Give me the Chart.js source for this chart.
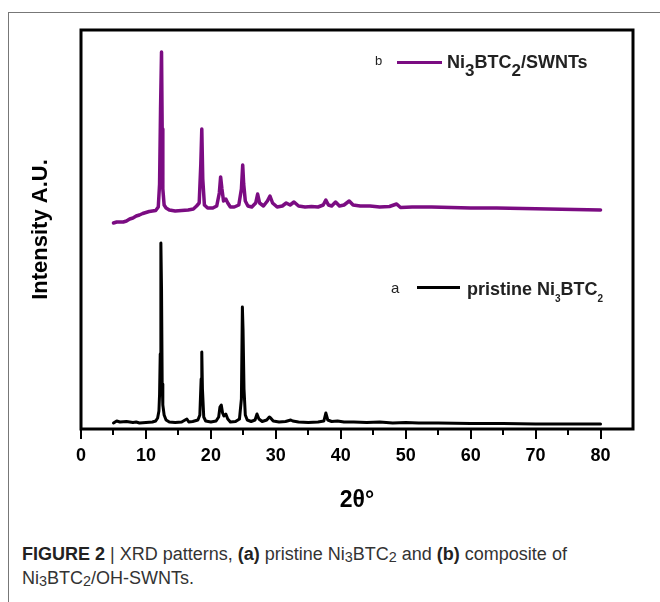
<!DOCTYPE html>
<html>
<head>
<meta charset="utf-8">
<script src="https://cdn.jsdelivr.net/npm/chart.js@4.4.1/dist/chart.umd.min.js"></script>
<style>
  html, body { margin: 0; padding: 0; background: #fff; }
  #wrap { position: relative; width: 660px; height: 602px; overflow: hidden; }
  #frame { position: absolute; left: 8px; top: 12px; width: 700px; height: 700px; border: 1px solid #777; }
  #xrd { position: absolute; left: 0; top: 0; }
  #caption {
    position: absolute; left: 22px; top: 542px; width: 630px;
    font-family: "Liberation Sans", Arial, sans-serif;
    font-size: 18px; line-height: 24px; color: #333;
  }
  #caption b { color: #222; }
  #caption sub { font-size: 0.8em; vertical-align: -0.15em; line-height: 0; }
</style>
</head>
<body>
<div id="wrap">
  <div id="frame"></div>
  <canvas id="xrd" width="660" height="530"></canvas>
  <div id="caption"><b>FIGURE 2</b> | XRD patterns, <b>(a)</b> pristine Ni<sub>3</sub>BTC<sub>2</sub> and <b>(b)</b> composite of<br>Ni<sub>3</sub>BTC<sub>2</sub>/OH-SWNTs.</div>
</div>
<script>
// 2-theta positions and intensities (arbitrary units)
const pristineAngles = [5, 5.5, 6, 7, 8, 8.5, 9, 10, 11, 11.5, 11.8, 12.0, 12.1, 12.2, 12.3, 12.4, 12.5, 12.6, 12.8, 13.1, 13.6, 14.5, 15.5, 16.3, 16.6, 17.2, 18.0, 18.3, 18.5, 18.6, 18.7, 18.9, 19.2, 20.0, 20.8, 21.2, 21.4, 21.6, 21.8, 22.0, 22.3, 22.6, 23.0, 23.8, 24.4, 24.7, 24.85, 24.95, 25.1, 25.3, 25.6, 26.2, 26.8, 27.1, 27.4, 27.9, 28.6, 29.0, 29.2, 29.6, 30.5, 31.5, 32.3, 32.6, 33.5, 35, 36.5, 37.4, 37.7, 38.0, 38.6, 39.5, 40.5, 42, 44, 46, 48, 50, 52, 55, 60, 65, 70, 75, 80];
const pristineIntensity = [6, 8, 7, 7.5, 6.5, 7, 6, 6.5, 7, 8, 11, 18, 35, 75, 186, 140, 45, 24, 14, 9, 7, 6.5, 7, 10, 7, 7.5, 9, 14, 50, 77, 40, 12, 8, 7, 8, 12, 22, 24, 16, 13, 15, 10, 7, 7.5, 10, 30, 122, 100, 40, 14, 9, 7.5, 9, 15, 10, 7.5, 9, 12, 11, 8, 7, 7.5, 9, 8, 7, 6.5, 7, 8, 16, 9, 7.5, 8, 7, 7, 6.5, 7, 6, 6.5, 6, 6, 5.5, 5.5, 5, 5, 5];

const compositeAngles = [5, 5.5, 6, 6.5, 7, 7.5, 8, 8.5, 9, 9.5, 10, 10.5, 11, 11.5, 11.9, 12.1, 12.25, 12.4, 12.5, 12.6, 12.8, 13.1, 13.6, 14.5, 15.5, 16.5, 17.3, 17.8, 18.2, 18.45, 18.6, 18.75, 19.0, 19.5, 20.3, 20.9, 21.3, 21.5, 21.7, 21.95, 22.3, 22.6, 23.0, 23.6, 24.3, 24.7, 24.9, 25.05, 25.3, 25.7, 26.3, 26.9, 27.2, 27.5, 28.1, 28.7, 29.1, 29.5, 30.2, 31.0, 31.6, 32.2, 32.8, 33.5, 34.5, 35.5, 36.5, 37.3, 37.7, 38.1, 38.6, 39.2, 39.8, 40.5, 41.3, 41.9, 43, 44.5, 46, 47.5, 48.6, 49.2, 51, 54, 57, 60, 64, 68, 72, 76, 80];
const compositeIntensity = [206, 207, 207, 207, 208, 210, 211, 213, 214, 215.5, 216.5, 217.5, 218, 218.5, 222, 245, 320, 377, 300, 240, 224, 221, 219, 218, 218.5, 219, 220, 223, 226, 265, 300, 250, 224, 221, 221, 223, 236, 252, 240, 228, 230, 226, 222, 222, 224, 240, 264, 245, 228, 223, 222, 226, 235, 226, 223, 228, 233, 226, 222, 223, 226, 224, 227, 223, 222, 222.5, 222, 224, 229, 224, 223, 227, 223, 224, 228, 224, 223, 223, 222, 222.5, 225, 221.5, 222, 222, 221.5, 221, 221, 220.5, 220, 219.5, 219];

const xTicksMajor = [0, 10, 20, 30, 40, 50, 60, 70, 80];
const xTicksMinor = [5, 15, 25, 35, 45, 55, 65, 75];

const purple = "#7b0c82";

function toPoints(xs, ys) {
  return xs.map((x, i) => ({ x: x, y: ys[i] }));
}

// draw a string made of pieces (subscripts shifted down)
function drawRich(ctx, parts, x, y) {
  let cx = x;
  parts.forEach((p) => {
    ctx.font = p.font;
    ctx.fillText(p.t, cx, y + (p.dy || 0));
    cx += ctx.measureText(p.t).width;
  });
}

const framePlugin = {
  id: "frame",
  afterDatasetsDraw(chart) {
    const { ctx, chartArea } = chart;
    const xs = chart.scales.x;
    ctx.save();
    ctx.strokeStyle = "#000";
    ctx.lineWidth = 3;
    ctx.strokeRect(chartArea.left, chartArea.top, chartArea.right - chartArea.left, chartArea.bottom - chartArea.top);
    // minor ticks
    ctx.lineWidth = 2;
    xTicksMinor.forEach((v) => {
      const px = Math.round(xs.getPixelForValue(v));
      ctx.beginPath();
      ctx.moveTo(px, chartArea.bottom);
      ctx.lineTo(px, chartArea.bottom + 6);
      ctx.stroke();
    });
    ctx.restore();
  },
};

const legendPlugin = {
  id: "seriesLabels",
  afterDraw(chart) {
    const { ctx, chartArea } = chart;
    const L = chartArea.left, T = chartArea.top;
    ctx.save();
    ctx.fillStyle = "#222";
    ctx.textBaseline = "alphabetic";

    // b — composite
    ctx.font = "13px 'Liberation Sans', Arial, sans-serif";
    ctx.fillText("b", L + 294, T + 35);
    ctx.strokeStyle = purple;
    ctx.lineWidth = 3;
    ctx.beginPath();
    ctx.moveTo(L + 316, T + 32.5);
    ctx.lineTo(L + 361, T + 32.5);
    ctx.stroke();
    const fb = "bold 18px 'Liberation Sans', Arial, sans-serif";
    const fbs = "bold 17px 'Liberation Sans', Arial, sans-serif";
    drawRich(ctx, [
      { t: "Ni", font: fb },
      { t: "3", font: fbs, dy: 8 },
      { t: "BTC", font: fb },
      { t: "2", font: fbs, dy: 8 },
      { t: "/SWNTs", font: fb },
    ], L + 366, T + 38);

    // a — pristine
    ctx.font = "15px 'Liberation Sans', Arial, sans-serif";
    ctx.fillText("a", L + 310, T + 263);
    ctx.strokeStyle = "#000";
    ctx.beginPath();
    ctx.moveTo(L + 336, T + 257.5);
    ctx.lineTo(L + 379, T + 257.5);
    ctx.stroke();
    const fa = "bold 18px 'Liberation Sans', Arial, sans-serif";
    const fas = "bold 10px 'Liberation Sans', Arial, sans-serif";
    drawRich(ctx, [
      { t: "pristine Ni", font: fa },
      { t: "3", font: fas, dy: 7 },
      { t: "BTC", font: fa },
      { t: "2", font: fas, dy: 7 },
    ], L + 386, T + 265);
    ctx.restore();
  },
};

new Chart(document.getElementById("xrd"), {
  type: "line",
  data: {
    datasets: [
      {
        label: "pristine Ni3BTC2",
        data: toPoints(pristineAngles, pristineIntensity),
        borderColor: "#000",
        borderWidth: 3,
      },
      {
        label: "Ni3BTC2/SWNTs",
        data: toPoints(compositeAngles, compositeIntensity),
        borderColor: purple,
        borderWidth: 3.5,
      },
    ],
  },
  options: {
    responsive: false,
    animation: false,
    devicePixelRatio: 1,
    layout: { padding: { top: 30, right: 27, left: 0, bottom: 0 } },
    elements: {
      point: { radius: 0 },
      line: { tension: 0, borderJoinStyle: "round", borderCapStyle: "round" },
    },
    plugins: {
      legend: { display: false },
      tooltip: { enabled: false },
    },
    scales: {
      x: {
        type: "linear",
        min: 0,
        max: 85,
        afterFit: (s) => { s.height = 530 - 429; },
        afterBuildTicks: (s) => { s.ticks = xTicksMajor.map((v) => ({ value: v })); },
        ticks: {
          color: "#000",
          padding: 6,
          font: { family: "'Liberation Sans', Arial, sans-serif", size: 18, weight: "bold" },
        },
        grid: {
          drawOnChartArea: false,
          drawTicks: true,
          tickLength: 10,
          lineWidth: 2,
          color: "#000",
        },
        border: { display: false },
        title: {
          display: true,
          text: "2θ°",
          color: "#000",
          padding: { top: 0, bottom: 16 },
          font: { family: "'Liberation Sans', Arial, sans-serif", size: 23, weight: "bold" },
        },
      },
      y: {
        min: 0,
        max: 399,
        afterFit: (s) => { s.width = 81; },
        ticks: { display: false },
        grid: { display: false, drawTicks: false },
        border: { display: false },
        title: {
          display: true,
          text: "Intensity A.U.",
          color: "#000",
          padding: { top: 28, bottom: 0 },
          font: { family: "'Liberation Sans', Arial, sans-serif", size: 22, weight: "bold" },
        },
      },
    },
  },
  plugins: [framePlugin, legendPlugin],
});
</script>
</body>
</html>
